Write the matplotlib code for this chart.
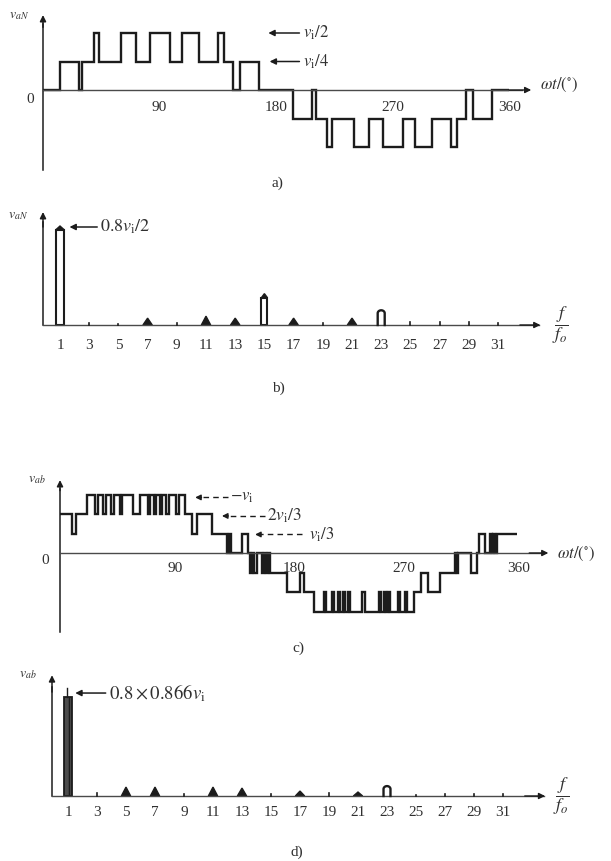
"""
Multilevel PWM: phase / line voltage waveforms and harmonic spectra (a-d)
"""
import numpy as np
import matplotlib.pyplot as plt

plt.rcParams['font.family'] = ['Liberation Serif', 'DejaVu Serif']
plt.rcParams['mathtext.fontset'] = 'stix'

# ---- values ----
# a) phase voltage v_aN: switching angles (deg), levels in units of v_i/4
a_edges = [0, 13, 28, 30.5, 39, 43.5, 60, 71.5, 82.5, 98, 107.5, 120.5, 135, 139.5, 147, 152, 167,
           180, 193, 208, 210.5, 219, 223.5, 240, 251.5, 262.5, 278, 287.5, 300.5, 315, 319.5, 327,
           332, 347, 360]
a_levels = [0, 1, 0, 1, 2, 1, 2, 1, 2, 1, 2, 1, 2, 1, 0, 1, 0,
            0, -1, 0, -1, -2, -1, -2, -1, -2, -1, -2, -1, -2, -1, 0, -1, 0]

# c) line voltage v_ab: switching angles (deg), levels in units of v_i/3
c_edges = [0, 9.4, 12.5, 21.2, 27.5, 29.8, 33.7, 36.1, 40, 42.4, 47.1, 48.6, 57.3, 62.7, 69, 70.6,
           73.7, 75.3, 78.4, 80, 83.1, 85.5, 91, 93.3, 98, 103.5, 107.5, 119.2, 131, 132.5, 134.1,
           142.7, 147.5, 149, 150.6, 152.2, 154.5, 158.4, 160, 161.6, 163.1, 164.7,
           178, 188, 191, 199.5, 207, 209, 213, 215, 218, 219.5, 222, 223.5, 226, 227.5, 236.5,
           239.5, 250.5, 252, 254, 255.5, 257.5, 259, 265, 267, 270.5, 272.5, 278, 283.5, 288.5,
           298, 309.5, 311, 312.5, 322.5, 327, 328.5, 333, 337, 338.5, 340, 341.5, 343, 358.5]
c_levels = [2, 1, 2, 3, 2, 3, 2, 3, 2, 3, 2, 3, 2, 3, 2, 3, 2, 3, 2, 3, 2, 3, 2, 3,
            2, 1, 2, 1, 0, 1, 0, 1, 0, -1, 0, -1, 0, -1, 0, -1, 0, -1,
            -2, -1, -2, -3, -2, -3, -2, -3, -2, -3, -2, -3, -2, -3, -2, -3, -2, -3, -2, -3,
            -2, -3, -2, -3, -2, -3, -2, -1, -2, -1, 0, -1, 0, -1, 0, 1, 0, 1, 0, 1, 0, 1]

# b), d) harmonic spectra, amplitude relative to the fundamental
orders = [1, 3, 5, 7, 9, 11, 13, 15, 17, 19, 21, 23, 25, 27, 29, 31]
b_amps = [1.0, 0.02, 0.01, 0.07, 0.02, 0.09, 0.07, 0.31, 0.07, 0.02, 0.07, 0.15, 0.03, 0.03, 0.03, 0.02]
d_amps = [1.0, 0.03, 0.09, 0.09, 0.02, 0.09, 0.08, 0.02, 0.05, 0.03, 0.04, 0.10, 0.01, 0.02, 0.02, 0.02]

angle_ticks = [90, 180, 270, 360]

INK = '#1c1c1c'
AXIS = '#4a4a4a'
TXT = '#303030'

W, H = 611, 861
fig = plt.figure(figsize=(W / 100, H / 100), dpi=100, facecolor='white')


def make_axes(top, bot, x_ref, x_ref_px, x_scale, y0_px, y_scale):
    # one transparent axes per panel, data units mapped onto the page
    ax = fig.add_axes([0, 1 - bot / H, 1, (bot - top) / H])
    ax.set_xlim(x_ref - x_ref_px / x_scale, x_ref + (W - x_ref_px) / x_scale)
    ax.set_ylim((y0_px - bot) / y_scale, (y0_px - top) / y_scale)
    ax.axis('off')
    return ax


def arrow(ax, x0, y0, x1, y1, lw=1.1, color=INK, head=9):
    ax.annotate('', xy=(x1, y1), xytext=(x0, y0),
                arrowprops=dict(arrowstyle='-|>', color=color, lw=lw, mutation_scale=head,
                                shrinkA=0, shrinkB=0), annotation_clip=False)


def dashed_arrow(ax, x0, x1, y):
    ax.plot([x0, x1 + 4], [y, y], color=INK, lw=1.0, ls=(0, (4, 3)))
    arrow(ax, x1 + 5, y, x1, y, lw=1.0, head=8)


def spectrum(ax, amps, bar_orders, arch_orders, dark_bar, x_axis, label_y):
    ax.plot([x_axis, 33.8], [0, 0], color=AXIS, lw=1.0)
    arrow(ax, 32.5, 0, 33.9, 0, lw=1.0)
    for n, a in zip(orders, amps):
        if n in bar_orders:
            w = 0.6 if n == 1 else 0.4
            if dark_bar:
                ax.bar(n, a, width=w, color='#4d4d4d', edgecolor=INK, lw=1.3, hatch='|||')
                ax.plot([n - 0.05, n - 0.05], [a, a + 0.09], color=INK, lw=1.0)
            else:
                ax.bar(n, a - 0.03, width=w, fill=False, edgecolor=INK, lw=1.5)
                ax.fill([n - w / 2, n, n + w / 2], [a - 0.03, a + 0.01, a - 0.03], color=INK)
        elif n in arch_orders:
            rx, ry = 0.24, 0.03
            t = np.linspace(np.pi, 0, 25)
            xs = np.r_[n - rx, n + rx * np.cos(t), n + rx]
            ys = np.r_[0, a - ry + ry * np.sin(t), 0]
            ax.plot(xs, ys, color=INK, lw=1.7)
        elif a >= 0.04:
            ax.fill([n - 0.32, n, n + 0.32], [0, a, 0], color=INK)
        else:
            ax.plot([n, n], [0, a], color=INK, lw=1.2)
    for n in orders:
        ax.text(n, label_y, str(n), ha='center', va='center', fontsize=11, color=TXT)


# ---------------- a) ----------------
ax_a = make_axes(0, 195, 0, 43, 1.295, 90, 28.5)
ax_a.plot([0, 0], [-2.81, 2.3], color=INK, lw=1.1)
arrow(ax_a, 0, 2.2, 0, 2.63)
ax_a.plot([0, 370], [0, 0], color=AXIS, lw=1.0)
arrow(ax_a, 360, 0, 377, 0, lw=1.0)
ax_a.stairs(a_levels, a_edges, baseline=None, color=INK, lw=1.7)
ax_a.text(-10, -0.35, '0', ha='center', va='center', fontsize=11, color=TXT)
for t in angle_ticks:
    ax_a.text(t, -0.6, str(t), ha='center', va='center', fontsize=11, color=TXT)
arrow(ax_a, 198, 2.0, 174, 2.0, lw=1.1)
ax_a.text(201, 2.0, r'$v_{\rm i}/2$', ha='left', va='center', fontsize=12, color=TXT)
arrow(ax_a, 198, 1.0, 175, 1.0, lw=1.1)
ax_a.text(201, 1.0, r'$v_{\rm i}/4$', ha='left', va='center', fontsize=12, color=TXT)
ax_a.text(384, 0.17, r'$\omega t/(^{\circ})$', ha='left', va='center', fontsize=12, color=TXT)
ax_a.text(-26, 2.63, r'$v_{aN}$', ha='left', va='center', fontsize=10, color=TXT)
ax_a.text(181, -3.26, 'a)', ha='center', va='center', fontsize=11, color=TXT)

# ---------------- b) ----------------
ax_b = make_axes(195, 420, 1, 60, 14.6, 325, 98)
xb = 1 + (43 - 60) / 14.6
ax_b.plot([xb, xb], [0, 1.05], color=INK, lw=1.1)
arrow(ax_b, xb, 1.0, xb, 1.153)
spectrum(ax_b, b_amps, {1, 15}, {23}, False, xb, -0.205)
arrow(ax_b, 3.55, 1.0, 1.65, 1.0, lw=1.1)
ax_b.text(3.75, 1.0, r'$0.8v_{\rm i}/2$', ha='left', va='center', fontsize=13, color=TXT)
ax_b.text(35.3, 0.0, r'$\dfrac{f}{f_o}$', ha='center', va='center', fontsize=13, color=TXT)
ax_b.text(1 + (8 - 60) / 14.6, 1.12, r'$v_{aN}$', ha='left', va='center', fontsize=10, color=TXT)
ax_b.text(1 + (278 - 60) / 14.6, (325 - 388) / 98, 'b)', ha='center', va='center',
          fontsize=11, color=TXT)

# ---------------- c) ----------------
ax_c = make_axes(460, 660, 0, 60, 1.275, 553, 19.5)
ax_c.plot([0, 0], [-4.05, 3.3], color=INK, lw=1.1)
arrow(ax_c, 0, 3.2, 0, 3.74)
ax_c.plot([0, 378], [0, 0], color=AXIS, lw=1.0)
arrow(ax_c, 368, 0, 383, 0, lw=1.0)
ax_c.stairs(c_levels, c_edges, baseline=None, color=INK, lw=1.7)
ax_c.text(-12, -0.36, '0', ha='center', va='center', fontsize=11, color=TXT)
for t in angle_ticks:
    ax_c.text(t + (4 if t == 180 else 0), -0.8, str(t), ha='center', va='center',
              fontsize=11, color=TXT)
dashed_arrow(ax_c, 132, 106, 2.85)
ax_c.text(133, 2.85, r'$-v_{\rm i}$', ha='left', va='center', fontsize=12, color=TXT)
dashed_arrow(ax_c, 161, 127, 1.9)
ax_c.text(162.5, 1.9, r'$2v_{\rm i}/3$', ha='left', va='center', fontsize=12.5, color=TXT)
dashed_arrow(ax_c, 190, 153, 0.95)
ax_c.text(195, 0.95, r'$v_{\rm i}/3$', ha='left', va='center', fontsize=12, color=TXT)
ax_c.text(390, -0.05, r'$\omega t/(^{\circ})$', ha='left', va='center', fontsize=12, color=TXT)
ax_c.text(-25, 3.74, r'$v_{ab}$', ha='left', va='center', fontsize=10, color=TXT)
ax_c.text(187, -4.87, 'c)', ha='center', va='center', fontsize=11, color=TXT)

# ---------------- d) ----------------
ax_d = make_axes(660, 861, 1, 68, 14.5, 796, 99)
xd = 1 + (52 - 68) / 14.5
ax_d.plot([xd, xd], [0, 1.1], color=INK, lw=1.1)
arrow(ax_d, xd, 1.05, xd, 1.22)
spectrum(ax_d, d_amps, {1}, {23}, True, xd, -0.17)
arrow(ax_d, 3.6, 1.04, 1.5, 1.04, lw=1.1)
ax_d.text(3.8, 1.04, r'$0.8\times0.866v_{\rm i}$', ha='left', va='center', fontsize=13.5,
          color=TXT)
ax_d.text(35.0, 0.0, r'$\dfrac{f}{f_o}$', ha='center', va='center', fontsize=13, color=TXT)
ax_d.text(xd - 2.3, 1.22, r'$v_{ab}$', ha='left', va='center', fontsize=10, color=TXT)
ax_d.text(1 + (297 - 68) / 14.5, (796 - 852) / 99, 'd)', ha='center', va='center',
          fontsize=11, color=TXT)

fig.savefig('out.png', dpi=100, facecolor='white')
